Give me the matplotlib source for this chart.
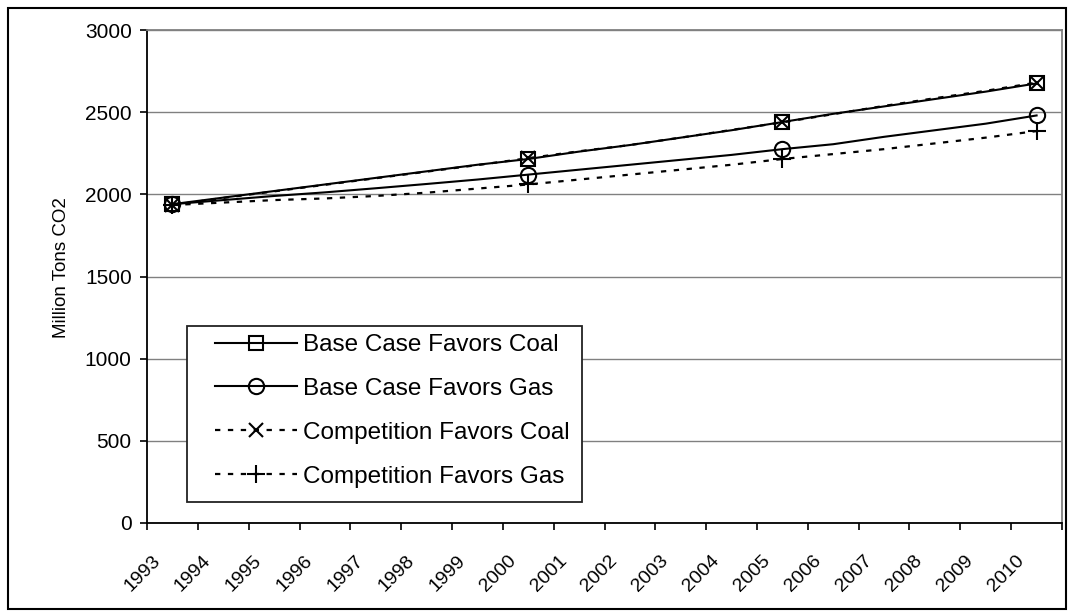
import numpy as np
import matplotlib.pyplot as plt
from matplotlib.patches import Rectangle
from matplotlib.transforms import ScaledTranslation

years = [str(y) for y in range(1993, 2011)]

base_coal = [1940, 1980, 2020, 2060, 2100, 2140, 2180, 2215, 2260, 2300,
             2345, 2390, 2440, 2490, 2535, 2580, 2625, 2675]
base_gas = [1940, 1965, 1990, 2012, 2037, 2063, 2090, 2120, 2150, 2180,
            2210, 2240, 2275, 2305, 2350, 2390, 2430, 2480]
comp_coal = [1935, 1978, 2018, 2058, 2098, 2138, 2178, 2220, 2262, 2300,
             2345, 2392, 2438, 2488, 2538, 2585, 2630, 2680]
comp_gas = [1935, 1950, 1965, 1975, 1990, 2010, 2035, 2060, 2090, 2120,
            2150, 2180, 2215, 2245, 2275, 2310, 2345, 2385]

marked = [0, 7, 12, 17]

plt.rcParams['font.family'] = ['Liberation Sans', 'DejaVu Sans']

fig = plt.figure(figsize=(10.7, 6.15), dpi=100)
ax = fig.add_axes([147/1070, 92/615, 915/1070, 493/615])

x = np.arange(len(years))
dots = (0, (2.4, 3.4))
ax.plot(x, base_coal, color='black', lw=1.5, marker='s', ms=10, mfc='none',
        mew=1.5, markevery=marked, label='Base Case Favors Coal', zorder=3)
ax.plot(x, base_gas, color='black', lw=1.5, marker='o', ms=11, mfc='none',
        mew=1.5, markevery=marked, label='Base Case Favors Gas', zorder=3)
ax.plot(x, comp_coal, color='black', lw=1.6, ls=dots, marker='x', ms=10,
        mew=1.5, markevery=marked, label='Competition Favors Coal', zorder=3)
ax.plot(x, comp_gas, color='black', lw=1.6, ls=dots, marker='+', ms=13,
        mew=1.5, markevery=marked, label='Competition Favors Gas', zorder=3)

ax.set_xlim(-0.5, len(years) - 0.5)
ax.set_ylim(0, 3000)
ax.set_yticks(range(0, 3001, 500))
ax.yaxis.grid(True, color='#808080', lw=1)
ax.set_axisbelow(True)
ax.tick_params(axis='y', direction='out', length=5, width=1.2, pad=6,
               labelsize=15)

# category labels at centres, tick marks between categories
ax.set_xticks(x)
ax.set_xticklabels(years, rotation=45, ha='right', va='top',
                   rotation_mode='anchor', fontsize=14)
ax.set_xticks(np.arange(-0.5, len(years)), minor=True)
ax.tick_params(axis='x', which='major', length=0, pad=21)
ax.tick_params(axis='x', which='minor', direction='out', length=5, width=1.2)
for lbl in ax.get_xticklabels():
    lbl.set_transform(lbl.get_transform() +
                      ScaledTranslation(-21/100, 0, fig.dpi_scale_trans))

for side in ['left', 'bottom']:
    ax.spines[side].set_color('black')
    ax.spines[side].set_linewidth(1.3)
for side in ['top', 'right']:
    ax.spines[side].set_color('#808080')
    ax.spines[side].set_linewidth(1.3)

fig.text(62/1070, 1 - 268/615, 'Million Tons CO2', rotation=90,
         ha='center', va='center', fontsize=13.5)

# legend box drawn separately so the handles sit indented like the original
ax.add_patch(Rectangle((187/1070, 1 - 502/615), 395/1070, 176/615,
                       transform=fig.transFigure, facecolor='white',
                       edgecolor='#222222', lw=1.3, zorder=4))
leg = ax.legend(loc='upper left', bbox_to_anchor=(215/1070, 1 - 334/615),
                bbox_transform=fig.transFigure, borderaxespad=0, borderpad=0,
                fontsize=17.5, handlelength=3.37, handletextpad=0.25,
                labelspacing=0.9, frameon=False)
leg.set_zorder(5)

fig.patches.append(Rectangle((8/1070, 6/615), 1058/1070, 601/615,
                             transform=fig.transFigure, fill=False,
                             edgecolor='black', lw=1.5))

fig.savefig('out.png', dpi=100)
